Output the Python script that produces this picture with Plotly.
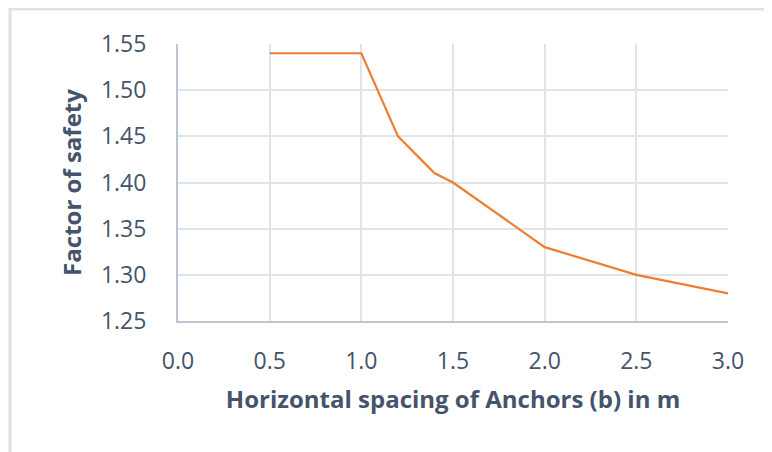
import plotly.graph_objects as go

spacing_m = [0.5, 1.0, 1.2, 1.4, 1.5, 2.0, 2.5, 3.0]
factor_of_safety = [1.54, 1.54, 1.45, 1.41, 1.40, 1.33, 1.30, 1.28]
x_tick_vals = [0.0, 0.5, 1.0, 1.5, 2.0, 2.5, 3.0]
x_tick_text = ["0.0", "0.5", "1.0", "1.5", "2.0", "2.5", "3.0"]
y_tick_vals = [1.25, 1.30, 1.35, 1.40, 1.45, 1.50, 1.55]
y_tick_text = ["1.25", "1.30", "1.35", "1.40", "1.45", "1.50", "1.55"]

OFF = 8  # page body margin
W, H = 772, 452
L, T = 178 - OFF, 44 - OFF
R, B = W - (728 - OFF), H - (321 - OFF)
pw, ph = W - L - R, H - T - B

text_col = "#44546a"
grid_col = "#dfe4eb"
axis_col = "#bcc6d2"

fig = go.Figure()
fig.add_trace(go.Scatter(
    x=spacing_m, y=factor_of_safety, mode="lines",
    line=dict(color="#ed7d31", width=2.2), showlegend=False,
))

# outer chart frame
fx0, fy0 = 10 - OFF, 9 - OFF
fig.add_shape(type="rect", xref="paper", yref="paper",
              x0=(fx0 - L) / pw, x1=(W + 20 - L) / pw,
              y0=(T + ph - (H + 20)) / ph, y1=(T + ph - fy0) / ph,
              line=dict(color="#dde2e9", width=3), layer="below")

fig.update_layout(
    width=W, height=H,
    margin=dict(l=L, r=R, t=T, b=B),
    paper_bgcolor="white", plot_bgcolor="white",
    font=dict(family="Open Sans", color=text_col),
    xaxis=dict(
        range=[0, 3.0], tickvals=x_tick_vals, ticktext=x_tick_text,
        showgrid=True, gridcolor=grid_col, gridwidth=2,
        showline=True, linecolor=axis_col, linewidth=2,
        zeroline=False, ticks="", tickfont=dict(size=23, color=text_col),
        ticklabelstandoff=18,
        title=dict(text="<b>Horizontal spacing of Anchors (b) in m</b>",
                   font=dict(size=24, color=text_col), standoff=17),
    ),
    yaxis=dict(
        range=[1.25, 1.55], tickvals=y_tick_vals, ticktext=y_tick_text,
        showgrid=True, gridcolor=grid_col, gridwidth=2,
        showline=True, linecolor=axis_col, linewidth=2,
        zeroline=False, ticks="", tickfont=dict(size=23, color=text_col),
        ticklabelstandoff=25,
        title=dict(text="<b>Factor of safety</b>",
                   font=dict(size=24, color=text_col), standoff=13),
    ),
)

fig.write_html("out.html")
